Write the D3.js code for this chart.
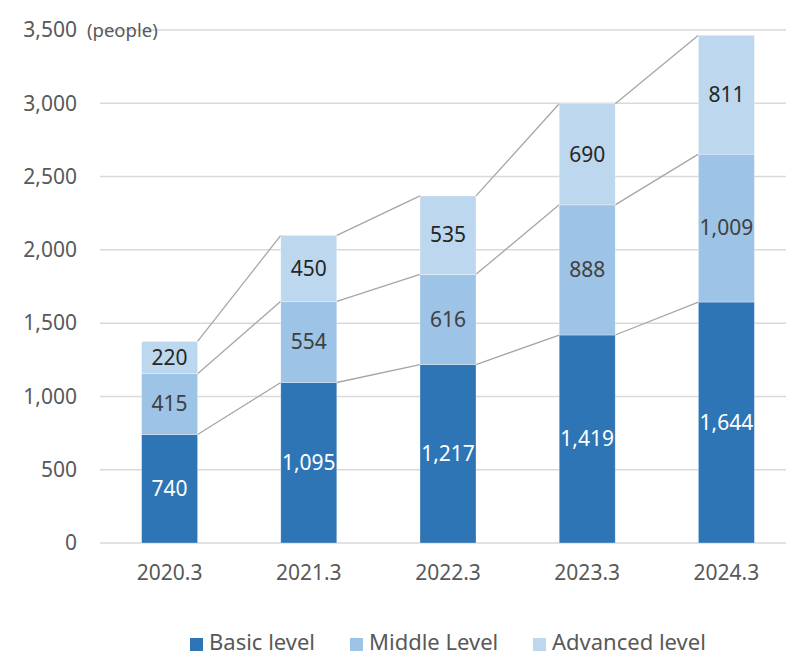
<!DOCTYPE html>
<html><head><meta charset="utf-8">
<script src="https://cdn.jsdelivr.net/npm/d3@7"></script>
<style>body{margin:0;background:#fff}svg{display:block}text{font-family:"Noto Sans",sans-serif}</style>
</head><body>
<svg id="c" width="786" height="657"></svg>
<script>
const categories = ["2020.3","2021.3","2022.3","2023.3","2024.3"];
const seriesNames = ["Basic level","Middle Level","Advanced level"];
const basic = [740,1095,1217,1419,1644];
const middle = [415,554,616,888,1009];
const advanced = [220,450,535,690,811];
const yTicks = [0,500,1000,1500,2000,2500,3000,3500];
const unitLabel = "(people)";

const colors = ["#2E75B6","#9DC3E6","#BDD7EE"];
const labelColors = ["#FFFFFF","#404040","#262626"];

const svg = d3.select("#c");
const x = d3.scaleBand().domain(categories).range([100,796]).padding(0);
const y = d3.scaleLinear().domain([0,3500]).range([543,30]);
const barW = 56;
const fmt = d3.format(",");

// gridlines
svg.append("g").selectAll("line").data(yTicks).join("line")
  .attr("x1",100).attr("x2",786)
  .attr("y1",d=>y(d)).attr("y2",d=>y(d))
  .attr("stroke","#D9D9D9").attr("stroke-width",1.5);

// y tick labels
svg.append("g").selectAll("text").data(yTicks).join("text")
  .attr("x",77).attr("y",d=>y(d)).attr("dy","0.35em")
  .attr("text-anchor","end").attr("font-size",21).attr("fill","#595959")
  .text(d=>fmt(d));

svg.append("text").attr("x",87).attr("y",y(3500)+1).attr("dy","0.35em")
  .attr("font-size",18.5).attr("fill","#595959").text(unitLabel);

// stack
const rows = categories.map((c,i)=>({cat:c, b:basic[i], m:middle[i], a:advanced[i]}));
const stack = d3.stack().keys(["b","m","a"])(rows);

// connector lines
stack.forEach(layer=>{
  for(let i=0;i<layer.length-1;i++){
    svg.append("line")
      .attr("x1",x(categories[i])+x.bandwidth()/2+barW/2)
      .attr("y1",y(layer[i][1]))
      .attr("x2",x(categories[i+1])+x.bandwidth()/2-barW/2)
      .attr("y2",y(layer[i+1][1]))
      .attr("stroke","#A6A6A6").attr("stroke-width",1.3);
  }
});

// bars
stack.forEach((layer,k)=>{
  const g = svg.append("g");
  g.selectAll("rect").data(layer).join("rect")
    .attr("x",(d,i)=>x(categories[i])+x.bandwidth()/2-barW/2)
    .attr("width",barW)
    .attr("y",d=>y(d[1]))
    .attr("height",d=>y(d[0])-y(d[1]))
    .attr("fill",colors[k])
    .attr("stroke","#ffffff").attr("stroke-width",0.6).attr("stroke-opacity",0.5);
  g.selectAll("text").data(layer).join("text")
    .attr("x",(d,i)=>x(categories[i])+x.bandwidth()/2)
    .attr("y",d=>(y(d[0])+y(d[1]))/2).attr("dy","0.35em")
    .attr("text-anchor","middle").attr("font-size",21)
    .attr("fill",labelColors[k])
    .text(d=>fmt(d[1]-d[0]));
});

// x labels
svg.append("g").selectAll("text").data(categories).join("text")
  .attr("x",d=>x(d)+x.bandwidth()/2).attr("y",580)
  .attr("text-anchor","middle").attr("font-size",21).attr("fill","#595959")
  .text(d=>d);

// legend
const legX = [190,350,533];
const leg = svg.append("g");
seriesNames.forEach((n,i)=>{
  leg.append("rect").attr("x",legX[i]).attr("y",638).attr("width",13).attr("height",13).attr("fill",colors[i]);
  leg.append("text").attr("x",legX[i]+19).attr("y",650).attr("font-size",22).attr("fill","#595959").text(n);
});
</script>
</body></html>
